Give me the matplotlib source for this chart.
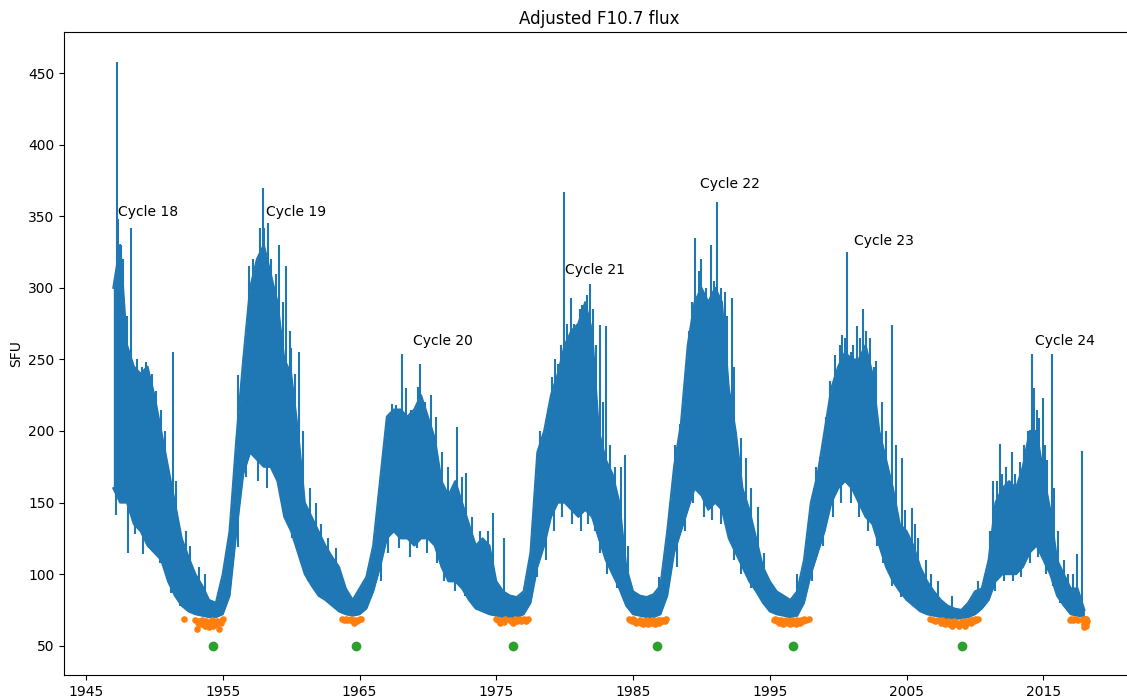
import numpy as np
import matplotlib
matplotlib.use("Agg")
import matplotlib.pyplot as plt

# half-year envelope of the daily flux, starting 1947.0
flux_hi = [300, 330, 260, 245, 240, 245, 225, 200, 175, 150, 125, 112, 100, 92, 82, 80, 100, 130, 195, 250,
           300, 320, 330, 310, 290, 250, 240, 200, 150, 140, 130, 120, 112, 105, 90, 82, 90, 98, 120, 165,
           210, 215, 215, 210, 215, 225, 210, 195, 165, 155, 165, 150, 135, 120, 125, 120, 95, 88, 85, 84,
           88, 115, 185, 200, 225, 240, 260, 270, 275, 290, 270, 200, 180, 170, 150, 105, 88, 85, 84, 86,
           92, 130, 175, 205, 260, 290, 300, 290, 300, 290, 230, 200, 160, 145, 125, 105, 95, 88, 85, 82,
           88, 110, 150, 170, 200, 230, 245, 255, 250, 250, 260, 240, 200, 180, 160, 135, 130, 120, 105, 95,
           88, 82, 78, 76, 75, 80, 88, 90, 110, 150, 160, 165, 160, 175, 200, 200, 170, 145, 110, 100,
           90, 90, 75]
flux_lo = [160, 150, 150, 135, 130, 120, 115, 110, 95, 85, 78, 74, 72, 71, 70, 70, 72, 85, 130, 170,
           185, 180, 175, 175, 165, 140, 130, 115, 100, 92, 85, 82, 78, 74, 72, 71, 72, 76, 88, 105,
           125, 130, 125, 125, 120, 125, 125, 120, 105, 95, 95, 90, 82, 76, 74, 72, 71, 70, 70, 70,
           72, 80, 105, 120, 140, 150, 150, 145, 140, 145, 140, 125, 110, 100, 90, 78, 72, 71, 70, 70,
           72, 85, 115, 130, 145, 160, 155, 145, 150, 145, 125, 115, 105, 95, 88, 80, 74, 72, 71, 70,
           71, 80, 100, 115, 130, 150, 160, 165, 160, 150, 140, 135, 120, 105, 95, 88, 82, 78, 74, 72,
           71, 70, 69, 69, 69, 70, 72, 76, 82, 95, 100, 100, 100, 105, 115, 120, 110, 100, 85, 78,
           72, 71, 70]

# daily peaks standing above the envelope
spike_t = [1947.24, 1947.35, 1947.55, 1948.3, 1948.7, 1949.4, 1949.8, 1951.37, 1956.1, 1956.9,
           1957.75, 1957.94, 1958.0, 1958.3, 1958.7, 1959.1, 1959.6, 1960.0, 1960.6, 1962.2,
           1967.4, 1967.7, 1968.1, 1969.25, 1969.45, 1970.26, 1972.15, 1972.8, 1974.73, 1975.6,
           1978.5, 1979.1, 1979.48, 1979.92, 1980.45, 1980.9, 1981.3, 1981.84, 1982.6, 1983.0,
           1984.1, 1984.39, 1986.9, 1988.85, 1989.53, 1989.8, 1990.5, 1990.7, 1991.15, 1991.7,
           1992.2, 1992.62, 1993.23, 1994.15, 1997.0, 1997.85, 1998.7, 1999.8, 2000.28, 2000.65,
           2001.38, 2001.82, 2002.76, 2003.93, 2004.7, 2005.39, 2005.6, 2008.3, 2011.31, 2011.84,
           2012.69, 2013.3, 2014.15, 2014.69, 2014.95, 2015.61, 2017.44, 2017.85,
           1947.7, 1948.0, 1948.45, 1948.9, 1949.1, 1949.6, 1950.1, 1950.5, 1950.8, 1951.6,
           1952.3, 1952.6, 1953.3, 1953.7, 1955.5, 1955.8, 1956.4, 1957.2, 1957.5, 1958.5,
           1958.9, 1959.4, 1959.9, 1960.3, 1960.9, 1961.4, 1961.8, 1962.7, 1963.3, 1966.8,
           1967.2, 1968.4, 1968.8, 1969.8, 1970.6, 1971.0, 1971.5, 1972.5, 1973.2, 1973.8,
           1974.4, 1977.7, 1977.9, 1978.2, 1978.8, 1979.3, 1979.7, 1980.2, 1980.7, 1981.1,
           1981.6, 1982.1, 1982.3, 1982.8, 1983.3, 1983.7, 1984.6, 1987.7, 1988.1, 1988.4,
           1989.1, 1989.3, 1990.0, 1990.3, 1990.9, 1991.4, 1991.9, 1992.4, 1992.9, 1993.6,
           1994.6, 1997.7, 1998.2, 1998.4, 1999.1, 1999.4, 1999.9, 2000.1, 2000.5, 2000.9,
           2001.1, 2001.6, 2002.0, 2002.3, 2002.6, 2003.2, 2003.5, 2004.2, 2004.9, 2005.8,
           2006.4, 2006.8, 2007.3, 2010.2, 2010.7, 2011.1, 2011.6, 2012.0, 2012.3, 2012.9,
           2013.6, 2013.9, 2014.3, 2014.5, 2015.1, 2015.3, 2015.8, 2016.1, 2016.5, 2016.8,
           2017.2]
spike_v = [458, 348, 330, 342, 250, 248, 240, 255, 239, 315,
           342, 370, 342, 345, 300, 330, 315, 258, 255, 135,
           219, 218, 254, 231, 247, 225, 203, 171, 143, 125,
           197, 238, 247, 367, 293, 274, 288, 303, 274, 273,
           175, 183, 98, 231, 335, 312, 280, 330, 360, 297,
           293, 181, 181, 147, 100, 120, 182, 253, 267, 325,
           273, 285, 249, 274, 181, 146, 135, 85, 165, 191,
           185, 178, 254, 209, 223, 254, 114, 186,
           320, 280, 240, 235, 245, 235, 228, 215, 200, 165,
           130, 120, 105, 100, 135, 165, 230, 320, 310, 320,
           310, 290, 270, 240, 200, 160, 150, 125, 118, 185,
           205, 230, 215, 220, 210, 185, 175, 168, 140, 130,
           130, 125, 140, 200, 215, 250, 260, 275, 275, 285,
           295, 285, 260, 220, 190, 175, 120, 150, 190, 205,
           270, 290, 320, 300, 305, 300, 280, 245, 195, 160,
           115, 115, 160, 175, 210, 235, 240, 260, 265, 255,
           260, 265, 270, 265, 245, 220, 200, 190, 145, 125,
           110, 100, 95, 95, 100, 130, 165, 170, 175, 170,
           190, 200, 230, 215, 190, 180, 160, 130, 110, 100,
           100]

# daily dips reaching below the envelope
dip_t = [1947.16, 1947.48, 1948.1, 1948.6, 1949.2, 1949.7, 1950.4, 1950.9, 1951.25, 1951.9,
         1956.1, 1956.7, 1957.6, 1958.2, 1959.2, 1959.7, 1960.1, 1960.7, 1961.2,
         1966.6, 1967.1, 1967.9, 1968.7, 1969.2, 1969.9, 1970.7, 1971.2, 1972.0, 1972.7,
         1978.0, 1978.6, 1979.2, 1979.8, 1980.5, 1981.2, 1981.7, 1982.2, 1982.6, 1983.1, 1983.8,
         1988.2, 1988.8, 1989.4, 1990.2, 1990.8, 1991.4, 1991.9, 1992.4, 1992.9, 1993.6,
         1998.1, 1998.9, 1999.6, 2000.2, 2000.9, 2001.5, 2002.2, 2002.8, 2003.3, 2003.9, 2004.6,
         2011.5, 2012.1, 2012.8, 2013.4, 2014.0, 2014.6, 2015.2, 2015.7, 2016.2]
dip_v = [141, 150, 115, 128, 114, 125, 108, 100, 87, 78,
         119, 168, 165, 160, 165, 140, 125, 108, 95,
         95, 115, 118, 112, 118, 115, 108, 95, 88, 85,
         98, 110, 130, 140, 135, 130, 135, 130, 115, 100, 90,
         105, 130, 150, 140, 138, 135, 130, 110, 100, 90,
         95, 120, 140, 150, 150, 140, 130, 120, 108, 92, 84,
         88, 95, 95, 98, 108, 112, 100, 92, 80]

# days below 70 SFU around each minimum
low_t = [1952.15,
         1953.0, 1953.1, 1953.2, 1953.3, 1953.4, 1953.5, 1953.6, 1953.7, 1953.8, 1953.9, 1954.0,
         1954.1, 1954.2, 1954.3, 1954.4, 1954.5, 1954.6, 1954.7, 1954.85, 1954.95, 1955.05,
         1963.7, 1963.9, 1964.0, 1964.1, 1964.3, 1964.4, 1964.5, 1964.6, 1964.7, 1964.8, 1964.9,
         1965.0, 1965.1,
         1975.0, 1975.1, 1975.2, 1975.3, 1975.4, 1975.5, 1975.6, 1975.65,
         1976.0, 1976.1, 1976.2, 1976.3, 1976.4, 1976.5, 1976.6, 1976.7, 1976.8, 1976.9, 1977.0,
         1977.1, 1977.2, 1977.3,
         1984.7, 1984.8, 1984.9, 1985.0, 1985.1, 1985.25, 1985.4, 1985.5, 1985.6, 1985.7, 1985.8,
         1985.9, 1986.0, 1986.1, 1986.2, 1986.3, 1986.4, 1986.5, 1986.6, 1986.7, 1986.8, 1986.9,
         1987.0, 1987.1, 1987.2, 1987.3, 1987.4,
         1995.3, 1995.4, 1995.5, 1995.6, 1995.7, 1995.8, 1995.9, 1996.0, 1996.1, 1996.2, 1996.3,
         1996.4, 1996.5, 1996.6, 1996.7, 1996.8, 1996.9, 1997.0, 1997.1, 1997.2, 1997.3, 1997.4,
         1997.5, 1997.65, 1997.85,
         2006.7, 2006.9, 2007.1, 2007.3, 2007.5, 2007.6, 2007.7, 2007.8, 2007.9, 2008.0, 2008.1,
         2008.2, 2008.3, 2008.4, 2008.5, 2008.6, 2008.7, 2008.8, 2008.9, 2009.0, 2009.1, 2009.2,
         2009.3, 2009.4, 2009.5, 2009.6, 2009.7, 2009.8, 2009.9, 2010.0, 2010.1, 2010.25,
         2016.95, 2017.05, 2017.15, 2017.25, 2017.35, 2017.5,
         2017.9, 2017.95, 2018.0, 2018.05, 2018.1, 2018.15, 2018.2, 2018.1, 2018.0, 2018.15]
low_v = [68.5,
         68, 62, 66, 67, 65, 68, 66, 64, 67, 65, 63,
         66, 68, 64, 66, 65, 67, 62, 66, 68, 69,
         68.5, 68, 69, 68, 68, 69, 67, 66, 68, 67, 68,
         69, 68.5,
         69, 68, 67, 66, 67, 68, 66.5, 69,
         68, 67, 66, 68, 69, 67, 68, 68.5, 67, 68, 69,
         68, 67.5, 69,
         69, 68, 67, 69, 68, 66, 67, 68, 66, 65, 67,
         66, 68, 65, 67, 66, 68, 67, 65, 67, 68, 66,
         68, 67, 68, 67, 69,
         68, 69, 67, 68, 66, 68, 67, 65, 67, 68, 66,
         67, 65, 68, 66, 67, 65, 68, 67, 66, 68, 67,
         69, 68, 69,
         69, 68, 67, 68, 66, 68, 67, 65, 66, 67, 65,
         66, 64, 66, 67, 65, 66, 64, 66, 65, 67, 66,
         64, 66, 67, 68, 66, 68, 67, 69, 68, 69,
         68, 69, 68, 68.5, 69, 68,
         69, 67, 65, 68, 64, 66, 67, 69, 63, 68.5]

# solar minima
min_t = [1954.27, 1964.78, 1976.24, 1986.77, 1996.7, 2009.04]
min_v = [50, 50, 50, 50, 50, 50]

# cycle labels
cycle_names = ["Cycle 18", "Cycle 19", "Cycle 20", "Cycle 21", "Cycle 22", "Cycle 23", "Cycle 24"]
cycle_t = [1947.36, 1958.18, 1968.9, 1980.0, 1989.9, 2001.15, 2014.4]
cycle_v = [350, 350, 260, 310, 370, 330, 260]

year_ticks = [1945, 1955, 1965, 1975, 1985, 1995, 2005, 2015]

t = 1947.0 + 0.5 * np.arange(len(flux_hi))
hi = np.array(flux_hi, dtype=float)
lo = np.array(flux_lo, dtype=float)
mid = (hi + lo) / 2
spike_idx = np.clip(np.rint((np.array(spike_t) - 1947.0) / 0.5).astype(int), 0, len(t) - 1)
dip_idx = np.clip(np.rint((np.array(dip_t) - 1947.0) / 0.5).astype(int), 0, len(t) - 1)

fig = plt.figure(figsize=(11.27, 6.98), dpi=100)
ax = fig.add_axes([0.0571, 0.033, 0.950, 0.921])

ax.fill_between(t, lo, hi, color="C0", lw=0)
ax.plot(t, hi, color="C0", lw=1.5)
ax.plot(t, lo, color="C0", lw=1.5)
ax.vlines(spike_t, mid[spike_idx], spike_v, color="C0", lw=1.5)
ax.vlines(dip_t, dip_v, mid[dip_idx], color="C0", lw=1.5)
ax.plot(low_t, low_v, ".", color="C1", markersize=7.5)
ax.plot(min_t, min_v, "o", color="C2")

for name, x, y in zip(cycle_names, cycle_t, cycle_v):
    ax.text(x, y, name, fontsize=10)

ax.set_title("Adjusted F10.7 flux")
ax.set_ylabel("SFU")
ax.set_xticks(year_ticks)
ax.set_xticklabels([str(y) for y in year_ticks])
ax.set_xlim(1943.42, 2021.7)
ax.set_ylim(29.6, 478.6)

fig.savefig("out.png", dpi=100)
